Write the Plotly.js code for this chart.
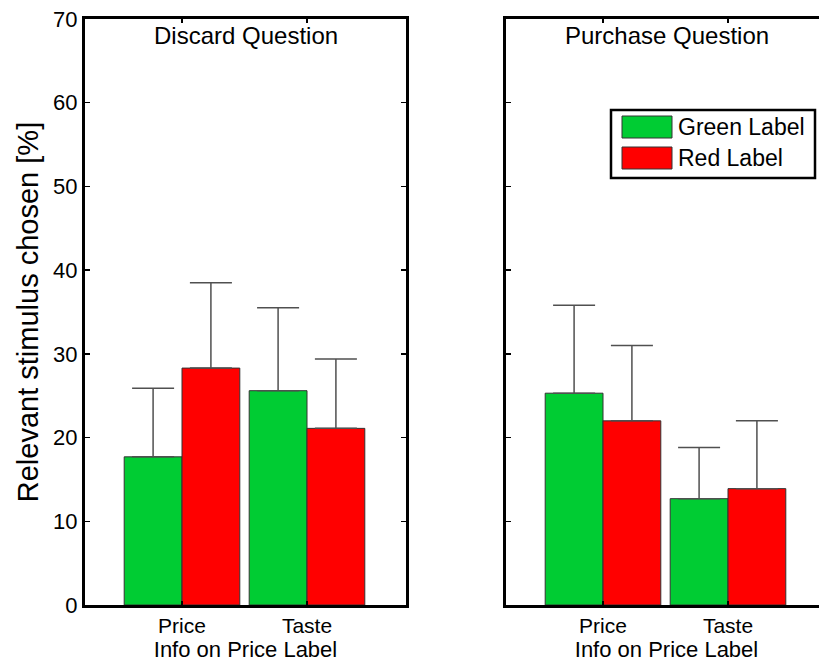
<!DOCTYPE html>
<html>
<head>
<meta charset="utf-8">
<script src="https://cdn.plot.ly/plotly-3.0.1.min.js"></script>
<style>
  html, body { margin: 0; padding: 0; overflow: hidden; background: #fff; }
  #chart { width: 827px; height: 662px; }
</style>
</head>
<body>
<div id="chart"></div>
<script>
// ---- data ----
var categories = ['Price', 'Taste'];
var seriesNames = ['Green Label', 'Red Label'];
var panelTitles = ['Discard Question', 'Purchase Question'];
var xTitle = 'Info on Price Label';
var yTitle = 'Relevant stimulus chosen [%]';

var discardGreen = [17.7, 25.6];
var discardGreenErr = [8.2, 9.9];
var discardRed = [28.3, 21.1];
var discardRedErr = [10.2, 8.3];

var purchaseGreen = [25.3, 12.7];
var purchaseGreenErr = [10.5, 6.1];
var purchaseRed = [22.0, 13.9];
var purchaseRedErr = [9.0, 8.1];

// ---- styles ----
var FONT = 'Arial, "Liberation Sans", Helvetica, sans-serif';
var GREEN = '#00CC33';
var RED = '#FF0000';
var ERRCOL = '#505050';

function bar(y, err, color, name, xa, ya) {
  return {
    type: 'bar', x: categories, y: y, name: name,
    xaxis: xa, yaxis: ya,
    marker: { color: color, line: { color: '#333333', width: 1 } },
    error_y: {
      type: 'data', symmetric: false, array: err,
      arrayminus: err.map(function () { return 0; }),
      color: ERRCOL, thickness: 1.5, width: 21
    },
    showlegend: false, hoverinfo: 'none'
  };
}

var data = [
  bar(discardGreen, discardGreenErr, GREEN, seriesNames[0], 'x', 'y'),
  bar(discardRed, discardRedErr, RED, seriesNames[1], 'x', 'y'),
  bar(purchaseGreen, purchaseGreenErr, GREEN, seriesNames[0], 'x2', 'y2'),
  bar(purchaseRed, purchaseRedErr, RED, seriesNames[1], 'x2', 'y2')
];

// pixel geometry helpers
var W = 827, H = 662, ML = 85, MT = 19, MB = 57, MR = 0;
var PW = W - ML - MR, PH = H - MT - MB;
function px(x) { return (x - ML) / PW; }
function py(y) { return (H - MB - y) / PH; }

var xRange = [-0.776, 1.792];

function xaxis(domain, anchor) {
  return {
    domain: domain, anchor: anchor, type: 'category', range: xRange,
    showline: true, linecolor: '#000', linewidth: 3, mirror: 'ticks',
    ticks: 'inside', ticklen: 4, tickwidth: 1.5, tickcolor: '#000',
    showgrid: false, zeroline: false,
    tickfont: { family: FONT, size: 21, color: '#000' },
    title: { text: xTitle, font: { family: FONT, size: 22, color: '#000' }, standoff: 4 }
  };
}
function yaxis(anchor, labels) {
  var a = {
    anchor: anchor, range: [0, 70], dtick: 10, tick0: 0,
    showline: true, linecolor: '#000', linewidth: 3, mirror: 'ticks',
    ticks: 'inside', ticklen: 5, tickwidth: 1.5, tickcolor: '#000',
    showgrid: false, zeroline: false, showticklabels: labels,
    tickfont: { family: FONT, size: 22, color: '#000' }
  };
  if (labels) {
    a.title = { text: yTitle, font: { family: FONT, size: 29, color: '#000' }, standoff: 6 };
  }
  return a;
}

var leftDomain = [0, px(406)];
var rightDomain = [px(506), 1];

// manual legend (box + swatches) in the right panel
var shapes = [
  { type: 'rect', xref: 'paper', yref: 'paper', x0: px(611), x1: px(815), y0: py(110), y1: py(178),
    line: { color: '#000', width: 2.5 }, fillcolor: '#fff', layer: 'above' },
  { type: 'rect', xref: 'paper', yref: 'paper', x0: px(622), x1: px(672), y0: py(116), y1: py(138),
    line: { color: '#333', width: 1 }, fillcolor: GREEN, layer: 'above' },
  { type: 'rect', xref: 'paper', yref: 'paper', x0: px(622), x1: px(672), y0: py(147), y1: py(169),
    line: { color: '#333', width: 1 }, fillcolor: RED, layer: 'above' }
];

var annotations = [
  { xref: 'x domain', yref: 'y domain', x: 0.5, y: 1, yanchor: 'top', xanchor: 'center', yshift: -1,
    text: panelTitles[0], showarrow: false, font: { family: FONT, size: 24, color: '#000' } },
  { xref: 'x2 domain', yref: 'y2 domain', x: 0.5, y: 1, yanchor: 'top', xanchor: 'center', yshift: -1,
    text: panelTitles[1], showarrow: false, font: { family: FONT, size: 24, color: '#000' } },
  { xref: 'paper', yref: 'paper', x: px(676), y: py(127), xanchor: 'left', yanchor: 'middle',
    text: seriesNames[0], showarrow: false, font: { family: FONT, size: 23, color: '#000' } },
  { xref: 'paper', yref: 'paper', x: px(676), y: py(158), xanchor: 'left', yanchor: 'middle',
    text: seriesNames[1], showarrow: false, font: { family: FONT, size: 23, color: '#000' } }
];

var layout = {
  width: W, height: H,
  margin: { l: ML, r: MR, t: MT, b: MB, pad: 0 },
  paper_bgcolor: '#fff', plot_bgcolor: '#fff',
  barmode: 'group', bargap: 0.075, bargroupgap: 0,
  showlegend: false,
  xaxis: xaxis(leftDomain, 'y'),
  yaxis: yaxis('x', true),
  xaxis2: xaxis(rightDomain, 'y2'),
  yaxis2: yaxis('x2', false),
  shapes: shapes,
  annotations: annotations,
  font: { family: FONT, color: '#000' }
};

Plotly.newPlot('chart', data, layout, { displayModeBar: false, staticPlot: true });
</script>
</body>
</html>
